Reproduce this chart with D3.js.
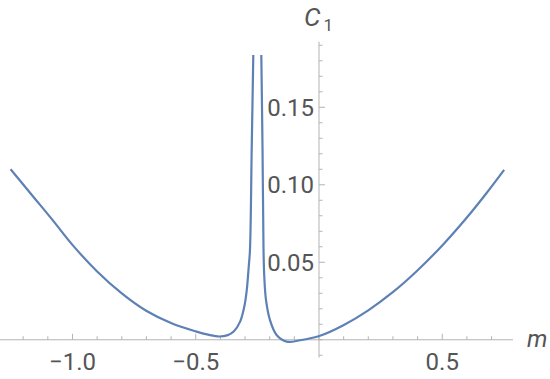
<!DOCTYPE html>
<html><head><meta charset="utf-8">
<script src="https://cdn.jsdelivr.net/npm/d3@7"></script>
<style>body{margin:0;background:#fff}svg{display:block}text{font-family:Roboto,"Liberation Sans",sans-serif}</style>
</head><body>
<svg id="c" width="550" height="379"></svg>
<script>
// Left branch (m < singularity)
const leftM = [-1.251,-1.159,-1.078,-1.001,-0.902,-0.800,-0.701,-0.598,-0.500,-0.450,-0.405,-0.370,-0.345,-0.320,-0.303,-0.293,-0.285,-0.280,-0.273,-0.2665];
const leftC = [0.1100,0.0923,0.0767,0.0614,0.0444,0.0299,0.0187,0.0106,0.0054,0.0033,0.0021,0.0030,0.0055,0.0117,0.0214,0.0321,0.0472,0.0579,0.1225,0.1837];
// Right branch (m > singularity)
const rightM = [-0.2340,-0.2290,-0.2250,-0.2220,-0.2150,-0.1990,-0.1720,-0.1310,-0.0770,0.004,0.099,0.200,0.302,0.396,0.502,0.599,0.680,0.751];
const rightC = [0.1837,0.1225,0.0580,0.0410,0.0257,0.0128,0.0031,-0.0012,-0.0003,0.0026,0.0094,0.0190,0.0310,0.0442,0.0612,0.0787,0.0947,0.1096];
const xMajor = [-1.0,-0.5,0.5];
const xMajorLabels = ["\u22121.0","\u22120.5","0.5"];
const yMajor = [0.05,0.10,0.15];
const yMajorLabels = ["0.05","0.10","0.15"];

const svg = d3.select("#c");
const x = d3.scaleLinear().domain([-1.294, 0.787]).range([0, 513]);
const y = d3.scaleLinear().domain([-0.0115, 0.1923]).range([357.6, 41.7]);
const axisCol = "#b3b3b3", labCol = "#555";

// x axis
svg.append("line").attr("x1",x(-1.294)).attr("x2",x(0.787)).attr("y1",y(0)).attr("y2",y(0)).attr("stroke",axisCol).attr("stroke-width",1);
const xMinor = d3.range(-12,8).map(i=>i/10);
svg.selectAll(".xt").data(xMinor).join("line")
  .attr("x1",d=>x(d)).attr("x2",d=>x(d))
  .attr("y1",y(0)).attr("y2",d=>y(0)-(xMajor.some(v=>Math.abs(v-d)<1e-6)?6:3.5))
  .attr("stroke",axisCol);
svg.selectAll(".xl").data(xMajor).join("text")
  .attr("x",d=>x(d)).attr("y",370).attr("text-anchor","middle")
  .attr("font-size",24).attr("fill",labCol).text((d,i)=>xMajorLabels[i]);

// y axis
svg.append("line").attr("x1",x(0)).attr("x2",x(0)).attr("y1",y(-0.0115)).attr("y2",y(0.1923)).attr("stroke",axisCol);
const yMinor = d3.range(-1,20).map(i=>i/100);
svg.selectAll(".yt").data(yMinor).join("line")
  .attr("y1",d=>y(d)).attr("y2",d=>y(d))
  .attr("x1",x(0)).attr("x2",d=>x(0)+(yMajor.some(v=>Math.abs(v-d)<1e-6)?6:3.5))
  .attr("stroke",axisCol);
svg.selectAll(".yl").data(yMajor).join("text")
  .attr("x",x(0)-5).attr("y",d=>y(d)+8.5).attr("text-anchor","end")
  .attr("font-size",24).attr("fill",labCol).text((d,i)=>yMajorLabels[i]);

// axis labels
svg.append("text").attr("x",527).attr("y",347).attr("font-size",24).attr("font-style","italic").attr("fill",labCol).text("m");
const cl = svg.append("text").attr("x",304).attr("y",26).attr("font-size",26).attr("font-style","italic").attr("fill",labCol);
cl.append("tspan").text("C");
cl.append("tspan").attr("font-size",17).attr("font-style","normal").attr("dx",3).attr("dy",5).text("1");

// curves
const line = d3.line().x(d=>x(d[0])).y(d=>y(d[1])).curve(d3.curveCatmullRom.alpha(0.5));
[[leftM,leftC],[rightM,rightC]].forEach(([m,c])=>{
  svg.append("path").attr("d",line(m.map((v,i)=>[v,c[i]])))
    .attr("fill","none").attr("stroke","#5e81b5").attr("stroke-width",2.2);
});
</script>
</body></html>
